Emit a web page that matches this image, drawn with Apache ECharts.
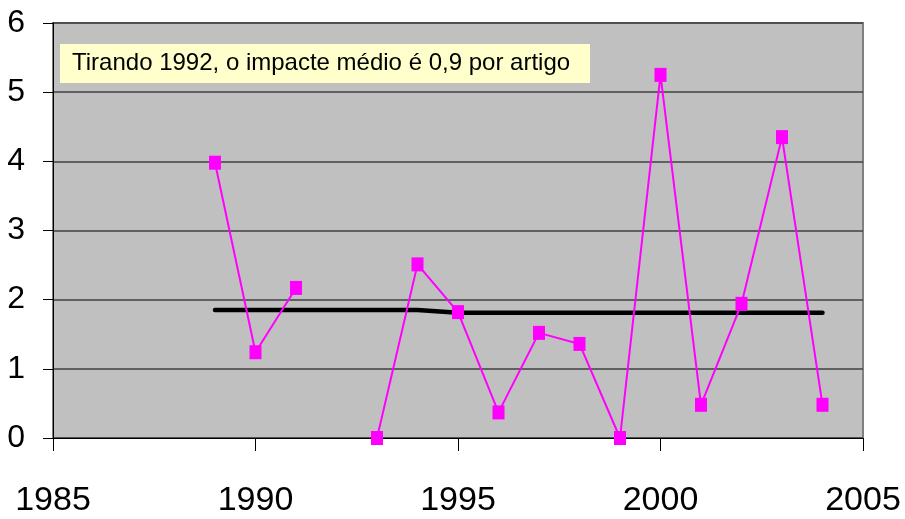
<!DOCTYPE html>
<html><head><meta charset="utf-8">
<script src="https://cdn.jsdelivr.net/npm/echarts@6/dist/echarts.min.js"></script>
<style>html,body{margin:0;padding:0;background:#fff}#c{width:905px;height:519px}</style>
</head><body><div id="c"></div>
<script>
var years = [1989, 1990, 1991, 1992, 1993, 1994, 1995, 1996, 1997, 1998, 1999, 2000, 2001, 2002, 2003, 2004];
var impact = [3.98, 1.24, 2.17, null, 0.0, 2.51, 1.82, 0.37, 1.52, 1.36, 0.0, 5.25, 0.48, 1.94, 4.35, 0.48];
var meanLine = [1.85, 1.85, 1.85, 1.85, 1.85, 1.85, 1.81, 1.81, 1.81, 1.81, 1.81, 1.81, 1.81, 1.81, 1.81, 1.81];
var note = 'Tirando 1992, o impacte médio é 0,9 por artigo';

var chart = echarts.init(document.getElementById('c'), null, {renderer: 'canvas'});
var fontFam = '"Liberation Sans", Arial, sans-serif';
chart.setOption({
  animation: false,
  grid: {left: 53, right: 42, top: 23, bottom: 81, show: true, backgroundColor: '#C0C0C0', borderColor: '#808080', borderWidth: 2, outerBoundsMode: 'none', containLabel: false},
  xAxis: {
    type: 'value', min: 1985, max: 2005, interval: 5,
    axisLine: {show: true, onZero: false, lineStyle: {color: '#000', width: 1}},
    axisTick: {show: true, length: 13, lineStyle: {color: '#000'}},
    axisLabel: {fontFamily: fontFam, fontSize: 34, color: '#000', margin: 46, formatter: function (v) { return String(v); }},
    splitLine: {show: false}
  },
  yAxis: {
    type: 'value', min: 0, max: 6, interval: 1,
    axisLine: {show: true, lineStyle: {color: '#000', width: 1}},
    axisTick: {show: true, length: 10, lineStyle: {color: '#000'}},
    axisLabel: {fontFamily: fontFam, fontSize: 32, color: '#000', margin: 28},
    splitLine: {show: true, lineStyle: {color: '#404040', width: 1.5}}
  },
  graphic: [
    {type: 'rect', left: 60, top: 44, shape: {width: 530, height: 39}, style: {fill: '#FFFFCC'}, z: 10},
    {type: 'text', left: 72, top: 51, style: {text: note, font: '24px "Liberation Sans", Arial, sans-serif', fill: '#000'}, z: 11}
  ],
  series: [
    {
      type: 'line', data: years.map(function (y, i) { return [y, meanLine[i]]; }),
      symbol: 'none', lineStyle: {color: '#000', width: 4.5, cap: 'round'}, z: 3
    },
    {
      type: 'line', data: years.map(function (y, i) { return [y, impact[i]]; }),
      connectNulls: false,
      symbol: 'rect', symbolSize: [12, 14],
      itemStyle: {color: '#FF00FF'},
      lineStyle: {color: '#FF00FF', width: 2}, z: 4
    }
  ]
});
</script></body></html>
